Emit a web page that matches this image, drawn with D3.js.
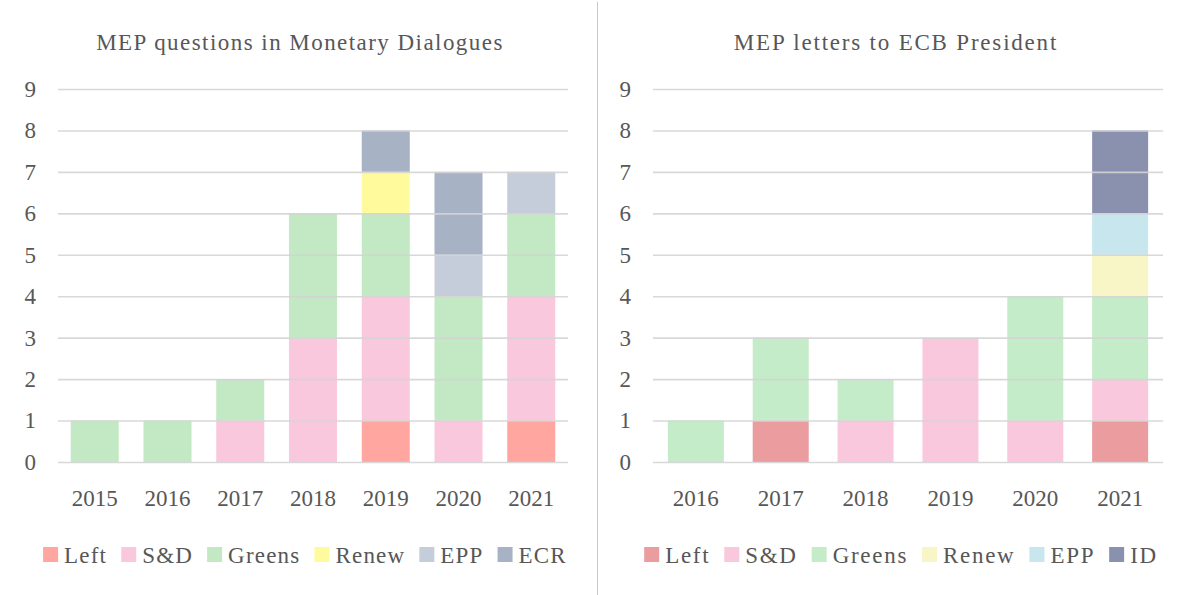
<!DOCTYPE html>
<html>
<head>
<meta charset="utf-8">
<script src="https://cdn.jsdelivr.net/npm/d3@7"></script>
<style>
  html, body { margin: 0; padding: 0; background: #fff; }
  svg { display: block; }
</style>
</head>
<body>
<svg id="chart" width="1192" height="595"></svg>
<script>
// Monetary Dialogues: questions by political group
const mdYears = ["2015", "2016", "2017", "2018", "2019", "2020", "2021"];
const mdGroups = ["Left", "S&D", "Greens", "Renew", "EPP", "ECR"];
const mdColors = ["#ffa6a0", "#fac8dc", "#c2e8c4", "#fffb9c", "#c5ccda", "#a7b3c4"];
const mdLeft   = [0, 0, 0, 0, 1, 0, 1];
const mdSD     = [0, 0, 1, 3, 3, 1, 3];
const mdGreens = [1, 1, 1, 3, 2, 3, 2];
const mdRenew  = [0, 0, 0, 0, 1, 0, 0];
const mdEPP    = [0, 0, 0, 0, 0, 1, 1];
const mdECR    = [0, 0, 0, 0, 1, 2, 0];

// Letters to the ECB President by political group
const ltYears = ["2016", "2017", "2018", "2019", "2020", "2021"];
const ltGroups = ["Left", "S&D", "Greens", "Renew", "EPP", "ID"];
const ltColors = ["#eb9c9f", "#fac8dc", "#c4ecc8", "#f8f5c6", "#c8e6ee", "#8a91ae"];
const ltLeft   = [0, 1, 0, 0, 0, 1];
const ltSD     = [0, 0, 1, 3, 1, 1];
const ltGreens = [1, 2, 1, 0, 3, 2];
const ltRenew  = [0, 0, 0, 0, 0, 1];
const ltEPP    = [0, 0, 0, 0, 0, 1];
const ltID     = [0, 0, 0, 0, 0, 2];

const yTicks = [0, 1, 2, 3, 4, 5, 6, 7, 8, 9];

const FONT = "'Liberation Serif', 'Times New Roman', serif";
const FS = 23;
const INK = "#575757";

const svg = d3.select("#chart").attr("font-family", FONT);

function styleText(sel, spacing) {
  return sel.attr("font-family", FONT).attr("font-size", FS)
    .attr("letter-spacing", spacing || 0).attr("fill", INK);
}

// vertical divider between the two panels
svg.append("line")
  .attr("x1", 597.5).attr("x2", 597.5)
  .attr("y1", 2).attr("y2", 595)
  .attr("stroke", "#c8c8c8").attr("stroke-width", 1);

function panel(cfg) {
  const g = svg.append("g");
  const x = d3.scaleBand().domain(cfg.years)
    .range([cfg.x0, cfg.x1]).paddingInner(0.34).paddingOuter(0.175);
  const y = d3.scaleLinear().domain([0, 9]).range([462, 89]);

  // stacked series
  const rows = cfg.years.map((yr, i) => {
    const r = { year: yr };
    cfg.groups.forEach((grp, k) => { r[grp] = cfg.series[k][i]; });
    return r;
  });
  const stacked = d3.stack().keys(cfg.groups)(rows);
  const color = d3.scaleOrdinal().domain(cfg.groups).range(cfg.colors);

  g.append("g").selectAll("g").data(stacked).join("g")
    .attr("fill", d => color(d.key))
    .selectAll("rect").data(d => d.filter(s => s[1] > s[0])).join("rect")
    .attr("x", d => x(d.data.year))
    .attr("width", x.bandwidth())
    .attr("y", d => y(d[1]))
    .attr("height", d => y(d[0]) - y(d[1]));

  // gridlines over the bars
  const yAxis = d3.axisLeft(y).tickValues(yTicks)
    .tickSize(-(cfg.x1 - cfg.x0)).tickPadding(cfg.x0 - cfg.labelX);
  const ya = g.append("g").attr("transform", `translate(${cfg.x0},0)`).call(yAxis);
  ya.attr("font-family", FONT);
  ya.select(".domain").remove();
  ya.selectAll(".tick line").attr("stroke", "#d4d4d4").attr("stroke-width", 1.6).attr("opacity", 0.9);
  styleText(ya.selectAll(".tick text")).attr("text-anchor", "end");

  const xAxis = d3.axisBottom(x).tickSize(0).tickPadding(0);
  const xa = g.append("g").attr("transform", `translate(0,462)`).call(xAxis);
  xa.attr("font-family", FONT);
  xa.select(".domain").remove();
  styleText(xa.selectAll(".tick text")).attr("dy", null).attr("y", 44);

  // title
  styleText(g.append("text"), cfg.titleSpacing).attr("x", cfg.titleX).attr("y", 50)
    .attr("text-anchor", "middle").text(cfg.title);

  // legend
  const lg = g.append("g");
  let cx = 0;
  cfg.groups.forEach((grp, k) => {
    const it = lg.append("g").attr("transform", `translate(${cx},0)`);
    it.append("rect").attr("x", 0).attr("y", -8).attr("width", 15).attr("height", 15)
      .attr("fill", cfg.colors[k]);
    const t = styleText(it.append("text"), cfg.legendSpacing).attr("x", 21).attr("y", 7.5).text(grp);
    cx += 21 + t.node().getComputedTextLength() + 14;
  });
  const lw = cx - 14;
  lg.attr("transform", `translate(${cfg.legendCX - lw / 2},555)`);
}

panel({
  title: "MEP questions in Monetary Dialogues", titleX: 300,
  years: mdYears, groups: mdGroups, colors: mdColors,
  series: [mdLeft, mdSD, mdGreens, mdRenew, mdEPP, mdECR],
  x0: 58, x1: 568, labelX: 36, legendCX: 305,
  titleSpacing: 1.45, legendSpacing: 1.2
});

panel({
  title: "MEP letters to ECB President", titleX: 896,
  years: ltYears, groups: ltGroups, colors: ltColors,
  series: [ltLeft, ltSD, ltGreens, ltRenew, ltEPP, ltID],
  x0: 653, x1: 1163, labelX: 631, legendCX: 901,
  titleSpacing: 1.8, legendSpacing: 1.7
});
</script>
</body>
</html>
